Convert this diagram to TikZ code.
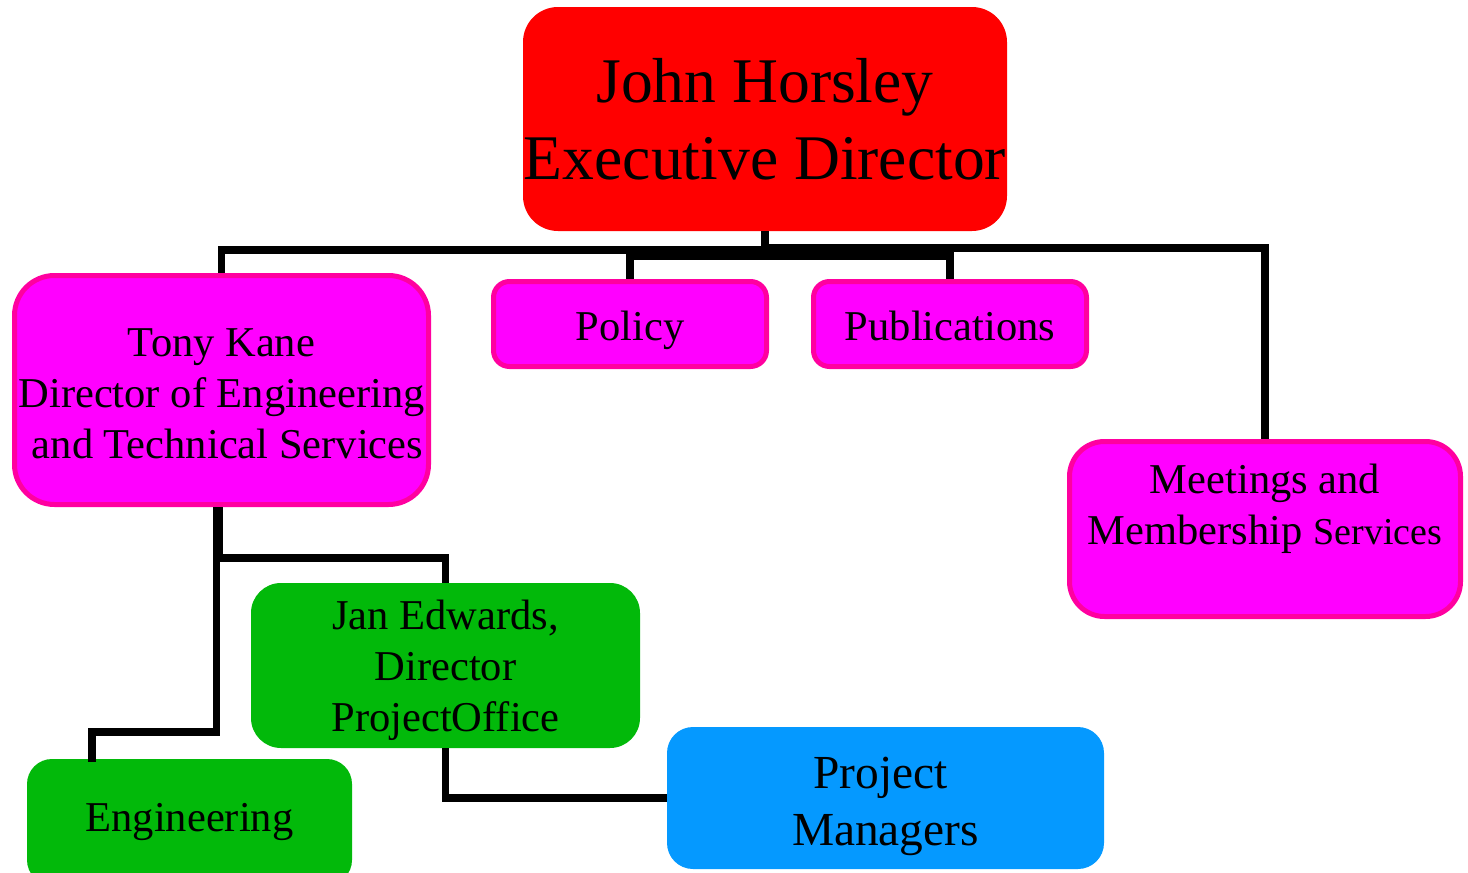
\documentclass[tikz,border=0pt]{standalone}
\usepackage{fontspec}
\setmainfont{Liberation Serif}
\definecolor{exred}{RGB}{255,0,0}
\definecolor{mag}{RGB}{255,0,255}
\definecolor{magedge}{RGB}{255,0,160}
\definecolor{grn}{RGB}{2,185,10}
\definecolor{blu}{RGB}{5,153,255}
\tikzset{
  box/.style={rectangle, inner sep=0pt, align=center, text=black},
  magbox/.style={box, fill=mag, draw=magedge, line width=5pt},
  grnbox/.style={box, fill=grn, rounded corners=30pt},
  conn/.style={draw=black, line width=7.5pt, line cap=butt, line join=miter},
  midtext/.style={font=\fontsize{42.5}{51}\selectfont}
}
\begin{document}
\begin{tikzpicture}[x=1pt,y=-1pt]
\useasboundingbox (0,0) rectangle (1468,873);
% nodes
\node[box, fill=exred, rounded corners=35pt, minimum width=484pt, minimum height=224pt,
      font=\fontsize{63.6}{77}\selectfont] (red) at (765,119) {John Horsley\\Executive Director};
\node[magbox, rounded corners=40pt, minimum width=414pt, minimum height=229pt, midtext,
      text height=136pt, text depth=0pt] (tony) at (221.5,390)
      {Tony Kane\\Director of Engineering\\\hspace*{12pt}and Technical Services};
\node[magbox, rounded corners=16pt, minimum width=273pt, minimum height=85pt, midtext,
      text height=41pt, text depth=9pt] (policy) at (630,324) {Policy};
\node[magbox, rounded corners=16pt, minimum width=273pt, minimum height=85pt, midtext,
      text height=41pt, text depth=9pt] (pubs) at (950,324) {Publications};
\node[magbox, rounded corners=35pt, minimum width=391pt, minimum height=175pt, midtext,
      text depth=49pt] (meet) at (1265,529)
      {Meetings and\\Membership {\fontsize{38}{51}\selectfont Services}};
\node[grnbox, minimum width=389pt, minimum height=165pt, midtext, text depth=0pt] (jan) at (445.5,665.5)
      {Jan Edwards,\\Director\\ProjectOffice};
\node[grnbox, rounded corners=25pt, minimum width=325pt, minimum height=126pt, midtext] (eng) at (189.5,822)
      {Engineering};
\node[box, fill=blu, rounded corners=26pt, minimum width=437pt, minimum height=142pt,
      font=\fontsize{47.4}{57}\selectfont, text height=94pt, text depth=0pt] (pm) at (885.5,798)
      {Project\hspace*{10pt}\\Managers};
% connectors
\draw[conn] (red.south) -- ++(0,19) -| (tony.north);
\draw[conn] (red.south) -- ++(0,17) -| (meet.north);
\draw[conn] (red.south) -- ++(0,25) -| (policy.north);
\draw[conn] (red.south) -- ++(0,25) -| (pubs.north);
\draw[conn] ([xshift=-2pt]tony.south) -- ++(0,51) -| (jan.north);
\draw[conn] ([xshift=-5pt]tony.south) -- ++(0,225) -| ([xshift=-97.5pt,yshift=-3pt]eng.north);
\draw[conn] (jan.south) |- (pm.west);
\end{tikzpicture}
\end{document}
